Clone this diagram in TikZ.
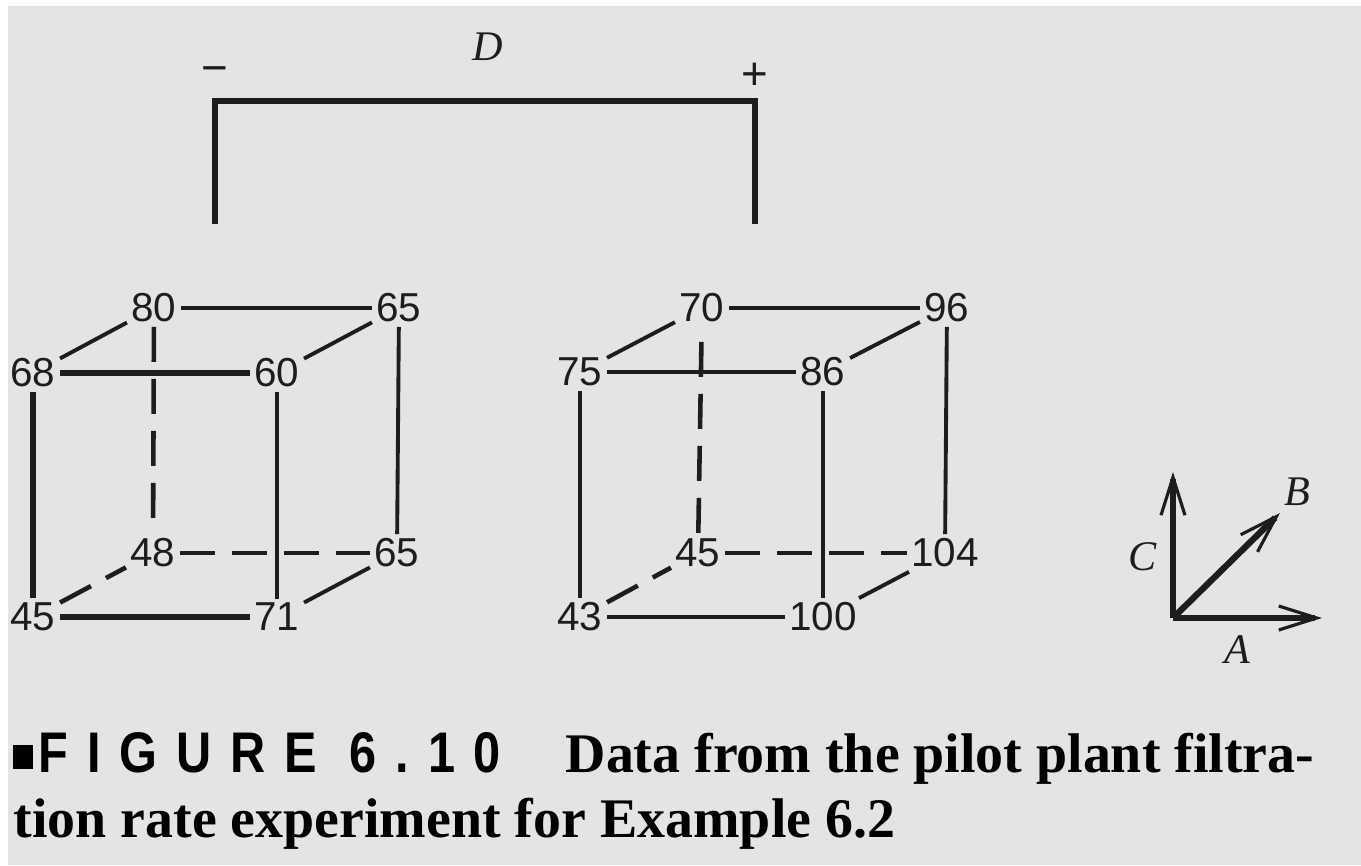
\documentclass[tikz,border=0pt]{standalone}
\usepackage{fontspec}
\setmainfont{Liberation Serif}
\newfontfamily\numfont{Liberation Sans}
\newfontfamily\figfont[FakeStretch=0.85, LetterSpace=33]{Liberation Sans Bold}
\definecolor{PaperGray}{RGB}{228,228,228}
\definecolor{InkBlack}{RGB}{30,28,29}
\usetikzlibrary{arrows.meta}

\tikzset{
  val/.style={font=\numfont\fontsize{11.5}{13}\selectfont, inner sep=1.1pt, text=InkBlack},
  sign/.style={font=\numfont\fontsize{13}{15}\selectfont, inner sep=0pt, text=InkBlack},
  edge/.style={InkBlack, line width=1.1pt},
  hidden/.style={InkBlack, line width=1.3pt, dash pattern=on 0.35cm off 0.17cm},
  axis/.style={InkBlack, line width=1.8pt, -{Straight Barb[length=3.8mm,width=2.4mm,line width=0.9pt]}},
  factor/.style={font=\fontsize{12}{14}\selectfont\itshape, text=InkBlack, inner sep=0pt},
  caption/.style={anchor=base west, inner sep=0pt, text=black, font=\bfseries\fontsize{15.9}{18}\selectfont},
}

\begin{document}
\begin{tikzpicture}
  \fill[white] (0,0) rectangle (13.61,8.65);
  \fill[PaperGray] (0.08,0) rectangle (13.61,8.59);
  \useasboundingbox (0,0) rectangle (13.61,8.65);

  % factor D bracket
  \node[factor] (dlab) at (4.88,8.18) {D};
  \node[sign] (dminus) at (2.15,7.90) {−};
  \node[sign] (dplus) at (7.55,7.89) {+};
  \coordinate (dlo) at (2.15,6.41);
  \coordinate (dhi) at (7.55,6.41);
  \draw[InkBlack, line width=1.8pt] (dlo) -- ++(0,1.23) -| (dhi);

  % D low cube
  \node[val] (L1)   at (0.33,2.48) {45};
  \node[val] (La)   at (2.77,2.48) {71};
  \node[val] (Lb)   at (1.53,3.12) {48};
  \node[val] (Lab)  at (3.97,3.12) {65};
  \node[val] (Lc)   at (0.33,4.92) {68};
  \node[val] (Lac)  at (2.77,4.92) {60};
  \node[val] (Lbc)  at (1.54,5.57) {80};
  \node[val] (Labc) at (3.99,5.57) {65};

  % D high cube
  \node[val] (R1)   at (5.80,2.48) {43};
  \node[val] (Ra)   at (8.23,2.48) {100};
  \node[val] (Rb)   at (6.98,3.12) {45};
  \node[val] (Rab)  at (9.45,3.12) {104};
  \node[val] (Rc)   at (5.80,4.93) {75};
  \node[val] (Rac)  at (8.23,4.93) {86};
  \node[val] (Rbc)  at (7.02,5.57) {70};
  \node[val] (Rabc) at (9.47,5.57) {96};

  \foreach \cb in {L,R} {
    \foreach \u/\v in {1/a, 1/c, c/ac, a/ac, a/ab, ab/abc, ac/abc, c/bc, bc/abc}
      \draw[edge] (\cb\u) -- (\cb\v);
    \draw[hidden] (\cb1) -- (\cb b);
    \draw[hidden] (\cb b) -- (\cb ab);
  }
  \draw[hidden] (Lbc) -- (Lb);
  \draw[hidden, shorten <=1.5mm] (Rbc) -- (Rb);
  \draw[edge, line width=1.8pt] (L1) -- (La) (L1) -- (Lc) (Lc) -- (Lac);

  % factor axes
  \coordinate (axo) at (11.73,2.47);
  \coordinate (axA) at (13.22,2.47);
  \coordinate (axB) at (12.80,3.52);
  \coordinate (axC) at (11.73,3.93);
  \draw[axis] (axo) -- (axA);
  \draw[axis] (axo) -- (axB);
  \draw[axis] (axo) -- (axC);
  \node[factor] (alab) at (12.37,2.15) {A};
  \node[factor] (blab) at (12.97,3.73) {B};
  \node[factor] (clab) at (11.43,3.08) {C};

  % caption
  \node[caption, font=\figfont\fontsize{16.3}{18}\selectfont] (fignum) at (0.12,0.93)
    {\rule[0.3mm]{2.0mm}{2.4mm}\hspace{0.6mm}FIGURE 6.10};
  \node[caption] (figtext) at (5.65,0.93) {Data from the pilot plant filtra-};
  \node[caption] (figtext2) at (0.13,0.28) {tion rate experiment for Example 6.2};
\end{tikzpicture}
\end{document}
